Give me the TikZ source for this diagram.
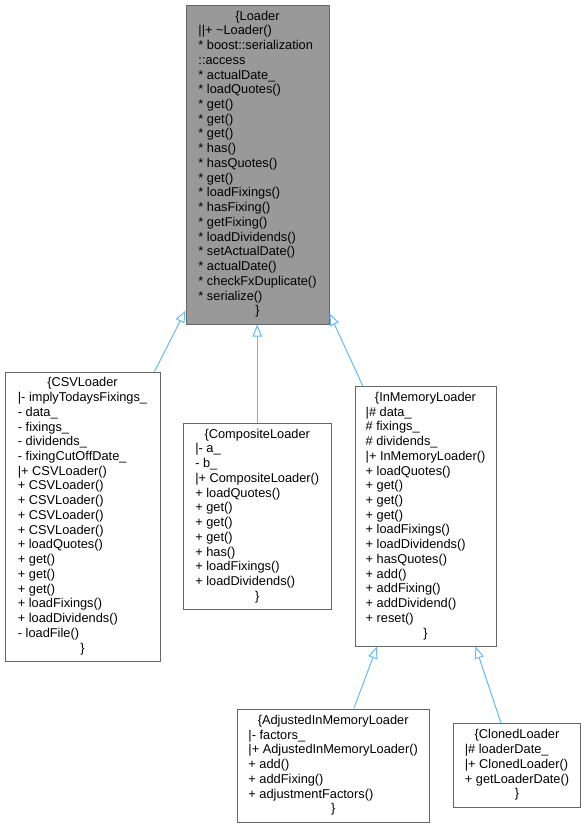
\documentclass[tikz,border=0pt]{standalone}
\usepackage{fontspec}
\setmainfont{Liberation Sans}
\usetikzlibrary{arrows.meta,calc}
\definecolor{edgeblue}{HTML}{63B8FF}
\definecolor{boxgray}{HTML}{666666}
\definecolor{basefill}{HTML}{999999}
\newcommand\umlbox[1]{\begin{tabular}{@{}l@{}}#1\end{tabular}}
\newcommand\ctrline[1]{\multicolumn{1}{@{}c@{}}{#1}}
\newcommand\st{{*}}
\tikzset{
  cls/.style={draw=boxgray, line width=1pt, fill=white, inner sep=0pt,
    font=\fontsize{12.8}{14.73}\selectfont, anchor=center},
  basecls/.style={cls, fill=basefill},
  inherit/.style={draw=edgeblue, line width=1pt,
    -{Triangle[open, length=12pt, width=9.5pt, fill=white]}}
}
\begin{document}
\begin{tikzpicture}[x=1pt, y=-1pt]
\useasboundingbox (0,0) rectangle (586,828);

\node[basecls, minimum width=143pt, minimum height=319pt] (loader) at (257.5,164.5) {\umlbox{%
\ctrline{\{Loader}\\
||+ \textasciitilde Loader()\\
\st{} boost::serialization\\
::access\\
\st{} actualDate\_\\
\st{} loadQuotes()\\
\st{} get()\\
\st{} get()\\
\st{} get()\\
\st{} has()\\
\st{} hasQuotes()\\
\st{} get()\\
\st{} loadFixings()\\
\st{} hasFixing()\\
\st{} getFixing()\\
\st{} loadDividends()\\
\st{} setActualDate()\\
\st{} actualDate()\\
\st{} checkFxDuplicate()\\
\st{} serialize()\\
\ctrline{\}}}};

\node[cls, minimum width=155pt, minimum height=289pt] (csv) at (82.5,516.5) {\umlbox{%
\ctrline{\{CSVLoader}\\
|- implyTodaysFixings\_\\
- data\_\\
- fixings\_\\
- dividends\_\\
- fixingCutOffDate\_\\
|+ CSVLoader()\\
+ CSVLoader()\\
+ CSVLoader()\\
+ CSVLoader()\\
+ CSVLoader()\\
+ loadQuotes()\\
+ get()\\
+ get()\\
+ get()\\
+ loadFixings()\\
+ loadDividends()\\
- loadFile()\\
\ctrline{\}}}};

\node[cls, minimum width=147.5pt, minimum height=186.5pt] (composite) at (257.25,516.25) {\umlbox{%
\ctrline{\{CompositeLoader}\\
|- a\_\\
- b\_\\
|+ CompositeLoader()\\
+ loadQuotes()\\
+ get()\\
+ get()\\
+ get()\\
+ has()\\
+ loadFixings()\\
+ loadDividends()\\
\ctrline{\}}}};

\node[cls, minimum width=141pt, minimum height=259.5pt] (inmem) at (425.5,516.25) {\umlbox{%
\ctrline{\{InMemoryLoader}\\
|\# data\_\\
\# fixings\_\\
\# dividends\_\\
|+ InMemoryLoader()\\
+ loadQuotes()\\
+ get()\\
+ get()\\
+ get()\\
+ loadFixings()\\
+ loadDividends()\\
+ hasQuotes()\\
+ add()\\
+ addFixing()\\
+ addDividend()\\
+ reset()\\
\ctrline{\}}}};

\node[cls, minimum width=191.7pt, minimum height=113.3pt] (adjusted) at (333.2,765.7) {\umlbox{%
\ctrline{\{AdjustedInMemoryLoader}\\
|- factors\_\\
|+ AdjustedInMemoryLoader()\\
+ add()\\
+ addFixing()\\
+ adjustmentFactors()\\
\ctrline{\}}}};

\node[cls, minimum width=127pt, minimum height=83.8pt] (cloned) at (517,765.4) {\umlbox{%
\ctrline{\{ClonedLoader}\\
|\# loaderDate\_\\
|+ ClonedLoader()\\
+ getLoaderDate()\\
\ctrline{\}}}};

\draw[inherit] ([xshift=-6pt]csv.north east) -- ([yshift=14pt]loader.south west);
\draw[inherit] (composite.north) -- (composite.north |- loader.south);
\draw[inherit] ([xshift=8.3pt]inmem.north west) -- ([yshift=11pt]loader.south east);
\draw[inherit] ([xshift=117pt]adjusted.north west) -- ([xshift=22.5pt]inmem.south west);
\draw[inherit] ([xshift=48pt]cloned.north west) -- ([xshift=-21pt]inmem.south east);
\end{tikzpicture}
\end{document}
